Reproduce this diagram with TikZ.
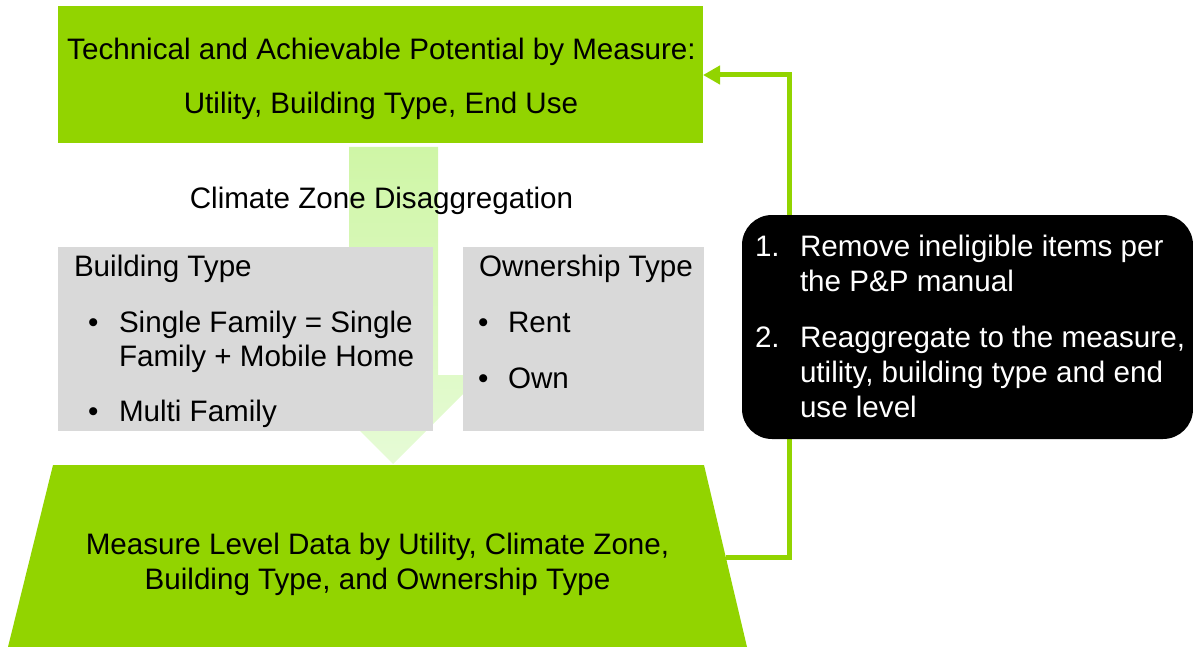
\documentclass[tikz,border=0pt]{standalone}
\usepackage{fontspec}
\setmainfont{Liberation Sans}
\usetikzlibrary{arrows.meta}
\definecolor{lime}{HTML}{92D400}
\definecolor{boxgray}{HTML}{D9D9D9}
\definecolor{palegreen}{HTML}{CFF6A6}
\definecolor{palergreen}{HTML}{E6FBD6}
\begin{document}
\begin{tikzpicture}[x=1pt,y=-1pt,
  every node/.style={font=\fontsize{29.6}{35}\selectfont, inner sep=0pt, outer sep=0pt},
  greenbox/.style={fill=lime, draw=none},
  graybox/.style={fill=boxgray, draw=none},
  blackbox/.style={fill=black, draw=none, rounded corners=30pt},
  txt/.style={anchor=base, text=black},
  txtl/.style={anchor=base west, text=black},
  wtxt/.style={anchor=base west, text=white},
  conn/.style={draw=lime, line width=5pt, -{Triangle[length=17pt,width=18pt]}}
]
\useasboundingbox (0,0) rectangle (1193,647);

% light green background arrow
\path[top color=palegreen, bottom color=palergreen]
  (349,147) -- (438,147) -- (438,375) -- (482,375) -- (393,464)
  -- (304,375) -- (349,375) -- cycle;

% top box
\node[greenbox, minimum width=645pt, minimum height=137pt, anchor=north west] (top) at (58,6) {};
\node[txt] (t1) at (381.5,60) {Technical and Achievable Potential by Measure:};
\node[txt] (t2) at (381,114) {Utility, Building Type, End Use};

% climate zone label
\node[txt] (cz) at (381.5,208) {Climate Zone Disaggregation};

% gray boxes
\node[graybox, minimum width=375pt, minimum height=184pt, anchor=north west] (bt) at (58,247) {};
\node[graybox, minimum width=241pt, minimum height=184pt, anchor=north west] (ot) at (463,247) {};
\node[txtl] (btl) at (74,276) {Building Type};
\node[txtl] (b1) at (88,332) {•};
\node[txtl] (b1a) at (119,332) {Single Family = Single};
\node[txtl] (b1b) at (119,366) {Family + Mobile Home};
\node[txtl] (b2) at (88,421) {•};
\node[txtl] (b2a) at (119,421) {Multi Family};
\node[txtl] (otl) at (479,276) {Ownership Type};
\node[txtl] (o1) at (478,332) {•};
\node[txtl] (o1a) at (508,332) {Rent};
\node[txtl] (o2) at (478,388) {•};
\node[txtl] (o2a) at (508,388) {Own};

% trapezoid
\path[fill=lime] (53,465) -- (704,465) -- (747,647) -- (8,647) -- cycle;
\coordinate (trr) at (726,557);
\node[txt] (m1) at (377.5,554) {Measure Level Data by Utility, Climate Zone,};
\node[txt] (m2) at (377.5,589) {Building Type, and Ownership Type};

% feedback connector
\draw[conn] (trr) -- ++(63,0) |- (top.east |- 0,75);

% black box
\node[blackbox, minimum width=451pt, minimum height=224pt, anchor=north west] (blk) at (742,215) {};
\node[wtxt] (n1) at (755,256) {1.};
\node[wtxt] (n1a) at (800,256) {Remove ineligible items per};
\node[wtxt] (n1b) at (800,291) {the P\&P manual};
\node[wtxt] (n2) at (755,347) {2.};
\node[wtxt] (n2a) at (800,347) {Reaggregate to the measure,};
\node[wtxt] (n2b) at (800,382) {utility, building type and end};
\node[wtxt] (n2c) at (800,417) {use level};
\end{tikzpicture}
\end{document}
